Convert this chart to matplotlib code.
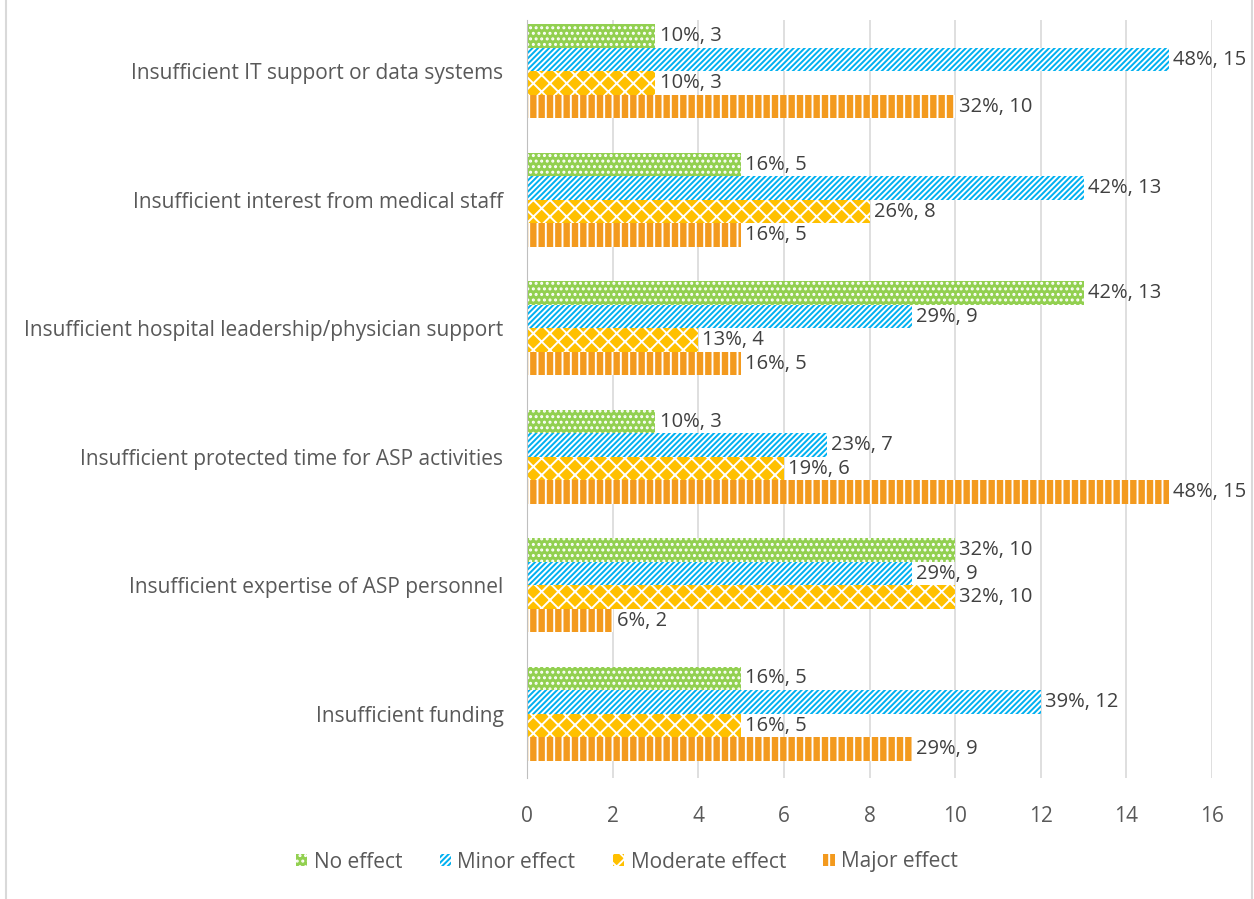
import numpy as np
import matplotlib.pyplot as plt

categories = ['Insufficient funding',
              'Insufficient expertise of ASP personnel',
              'Insufficient protected time for ASP activities',
              'Insufficient hospital leadership/physician support',
              'Insufficient interest from medical staff',
              'Insufficient IT support or data systems']
series = ['No effect', 'Minor effect', 'Moderate effect', 'Major effect']
no_effect = [5, 10, 3, 13, 5, 3]
minor_effect = [12, 9, 7, 9, 13, 15]
moderate_effect = [5, 10, 6, 4, 8, 3]
major_effect = [9, 2, 15, 5, 5, 10]
no_pct = ['16%', '32%', '10%', '42%', '16%', '10%']
minor_pct = ['39%', '29%', '23%', '29%', '42%', '48%']
moderate_pct = ['16%', '32%', '19%', '13%', '26%', '10%']
major_pct = ['29%', '6%', '48%', '16%', '16%', '32%']

colors = ['#92D050', '#00B0F0', '#FFC000', '#F39A1E']
hatches = ['...', '//////', 'xx', '||']

plt.rcParams['font.family'] = ['Open Sans', 'DejaVu Sans']
plt.rcParams['hatch.linewidth'] = 1.4

fig = plt.figure(figsize=(12.54, 8.99), dpi=100)
ax = fig.add_axes([527 / 1254, 1 - 778 / 899, (1212 - 527) / 1254, (778 - 20) / 899])

y = np.arange(len(categories))
w = 0.183
offsets = [1.5 * w, 0.5 * w, -0.5 * w, -1.5 * w]
values = [no_effect, minor_effect, moderate_effect, major_effect]
pcts = [no_pct, minor_pct, moderate_pct, major_pct]
for k in range(4):
    bars = ax.barh(y + offsets[k], values[k], height=w, color=colors[k],
                   edgecolor='white', linewidth=0, hatch=hatches[k], label=series[k])
    labels = [f'{p}, {v}' for p, v in zip(pcts[k], values[k])]
    ax.bar_label(bars, labels=labels, padding=3, color='#404040', fontsize=14.5)

ax.set_xlim(0, 16)
ax.set_ylim(-0.5, 5.4)
ax.set_xticks(range(0, 17, 2))
ax.set_yticks(y)
ax.set_yticklabels(categories)
ax.xaxis.grid(True, color='#D9D9D9', linewidth=1.2)
ax.set_axisbelow(True)
for s in ['top', 'right', 'bottom']:
    ax.spines[s].set_visible(False)
ax.spines['left'].set_color('#BFBFBF')
ax.tick_params(axis='both', length=0, labelsize=15, colors='#595959')
ax.tick_params(axis='x', pad=20)
ax.tick_params(axis='y', pad=17)

ax.legend(loc='center', bbox_to_anchor=(0.5, 1 - 862 / 899),
          bbox_transform=fig.transFigure, ncol=4, frameon=False, fontsize=15,
          labelcolor='#595959', handlelength=0.55, handleheight=0.55,
          handletextpad=0.3, columnspacing=1.8)

fig.add_artist(plt.Line2D([6 / 1254, 6 / 1254], [0, 1], color='#D9D9D9', lw=1.5))
fig.add_artist(plt.Line2D([1252 / 1254, 1252 / 1254], [0, 1], color='#D9D9D9', lw=1.5))

fig.savefig('out.png', dpi=100)
